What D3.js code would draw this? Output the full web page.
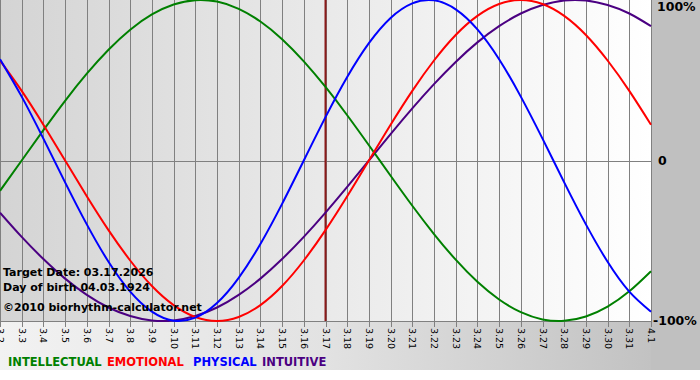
<!DOCTYPE html>
<html><head><meta charset="utf-8">
<script src="https://cdn.jsdelivr.net/npm/d3@7"></script>
<style>body{margin:0;background:#fff}svg{display:block}</style>
</head><body>
<script>
const dayLabels = ["3.2","3.3","3.4","3.5","3.6","3.7","3.8","3.9","3.10","3.11","3.12","3.13","3.14","3.15","3.16","3.17","3.18","3.19","3.20","3.21","3.22","3.23","3.24","3.25","3.26","3.27","3.28","3.29","3.30","3.31","4.1"];
const physical = [63.1,39.8,13.6,-13.6,-39.8,-63.1,-81.7,-94.2,-99.8,-97.9,-88.8,-73.1,-52.0,-27.0,0,27.0,52.0,73.1,88.8,97.9,99.8,94.2,81.7,63.1,39.8,13.6,-13.6,-39.8,-63.1,-81.7,-94.2];
const emotional = [62.3,43.4,22.3,0,-22.3,-43.4,-62.3,-78.2,-90.1,-97.5,-100,-97.5,-90.1,-78.2,-62.3,-43.4,-22.3,0,22.3,43.4,62.3,78.2,90.1,97.5,100,97.5,90.1,78.2,62.3,43.4,22.3];
const intellectual = [-18.9,0,18.9,37.2,54.1,69.0,81.5,91.0,97.2,99.9,99.0,94.5,86.6,75.6,61.8,45.8,28.2,9.5,-9.5,-28.2,-45.8,-61.8,-75.6,-86.6,-94.5,-99.0,-99.9,-97.2,-91.0,-81.5,-69.0];
const intuitive = [-32.5,-47.6,-61.4,-73.6,-83.7,-91.6,-96.9,-99.7,-99.7,-96.9,-91.6,-83.7,-73.6,-61.4,-47.6,-32.5,-16.5,0,16.5,32.5,47.6,61.4,73.6,83.7,91.6,96.9,99.7,99.7,96.9,91.6,83.7];
const targetIndex = 15;
const yTicks = [{v:100,t:"100%"},{v:0,t:"0"},{v:-100,t:"-100%"}];
const infoLines = ["Target Date: 03.17.2026","Day of birth 04.03.1924","©2010 biorhythm-calculator.net"];
const legendNames = ["INTELLECTUAL","EMOTIONAL","PHYSICAL","INTUITIVE"];

const W=700,H=380, PW=651, PH=321;
const svg=d3.select("body").append("svg").attr("width",W).attr("height",H);
const defs=svg.append("defs");
const g1=defs.append("linearGradient").attr("id","bg").attr("x1","0").attr("x2","1").attr("y1","0").attr("y2","0");
g1.append("stop").attr("offset","0").attr("stop-color","#d4d4d4");
g1.append("stop").attr("offset","1").attr("stop-color","#ffffff");
const g2=defs.append("linearGradient").attr("id","bb").attr("x1","0").attr("x2","1").attr("y1","0").attr("y2","0");
g2.append("stop").attr("offset","0").attr("stop-color","#f2f2f2");
g2.append("stop").attr("offset","0.5").attr("stop-color","#e2e2e2");
g2.append("stop").attr("offset","1").attr("stop-color","#c2c2c2");

svg.append("rect").attr("x",PW).attr("y",0).attr("width",W-PW).attr("height",370).attr("fill","#c0c0c0");
svg.append("rect").attr("x",0).attr("y",PH).attr("width",PW).attr("height",370-PH).attr("fill","url(#bb)");
svg.append("rect").attr("x",0).attr("y",0).attr("width",PW).attr("height",PH).attr("fill","url(#bg)");

const x=d3.scaleLinear().domain([0,30]).range([0,PW]);
const y=d3.scaleLinear().domain([-100,100]).range([PH,0]);

// grid lines + ticks
svg.append("g").selectAll("line").data(dayLabels).join("line")
  .attr("x1",(d,i)=>Math.round(x(i))+0.5).attr("x2",(d,i)=>Math.round(x(i))+0.5)
  .attr("y1",0).attr("y2",PH+6).attr("stroke","#808080").attr("stroke-width",1);
svg.append("line").attr("x1",0).attr("x2",PW).attr("y1",Math.round(y(0))+0.5).attr("y2",Math.round(y(0))+0.5).attr("stroke","#808080");
svg.append("line").attr("x1",0).attr("x2",PW).attr("y1",PH+0.5).attr("y2",PH+0.5).attr("stroke","#808080");

// x labels
svg.append("g").selectAll("text").data(dayLabels).join("text")
  .attr("transform",(d,i)=>`translate(${Math.round(x(i))},${PH+7}) rotate(90)`)
  .attr("dy","0.35em").attr("font-family","DejaVu Sans, Verdana, sans-serif").attr("font-size",9.5)
  .attr("fill","#000").text(d=>d);

// target line
svg.append("line").attr("x1",x(targetIndex)).attr("x2",x(targetIndex)).attr("y1",0).attr("y2",PH)
  .attr("stroke","#8b1a1a").attr("stroke-width",2);

const line=d3.line().x((d,i)=>x(i)).y(d=>y(d)).curve(d3.curveNatural);
const series=[
  {data:intuitive,color:"#4b0082"},
  {data:intellectual,color:"#008000"},
  {data:emotional,color:"#ff0000"},
  {data:physical,color:"#0000ff"}];
svg.append("g").selectAll("path").data(series).join("path")
  .attr("d",d=>line(d.data)).attr("fill","none").attr("stroke",d=>d.color).attr("stroke-width",2);

// right labels
svg.append("g").selectAll("text").data(yTicks).join("text")
  .attr("x",d=>d.v===0?658:(d.v>0?657:653)).attr("y",d=>Math.min(Math.max(y(d.v),7),PH)).attr("dy","0.35em")
  .attr("font-family","DejaVu Sans, Verdana, sans-serif").attr("font-weight","bold").attr("font-size",12.5)
  .attr("fill","#000").text(d=>d.t);

// info text
svg.append("g").selectAll("text").data(infoLines).join("text")
  .attr("x",3).attr("y",(d,i)=>[276,291,311][i])
  .attr("font-family","DejaVu Sans, Verdana, sans-serif").attr("font-weight","bold").attr("font-size",11)
  .attr("fill","#000").text(d=>d);

// legend
const legColors=["#008000","#ff0000","#0000ff","#4b0082"];
const legX=[8,107,193,262];
svg.append("g").selectAll("text").data(legendNames).join("text")
  .attr("x",(d,i)=>legX[i]).attr("y",366)
  .attr("font-family","DejaVu Sans, Verdana, sans-serif").attr("font-weight","bold").attr("font-size",11.5)
  .attr("fill",(d,i)=>legColors[i]).text(d=>d);
</script>
</body></html>
